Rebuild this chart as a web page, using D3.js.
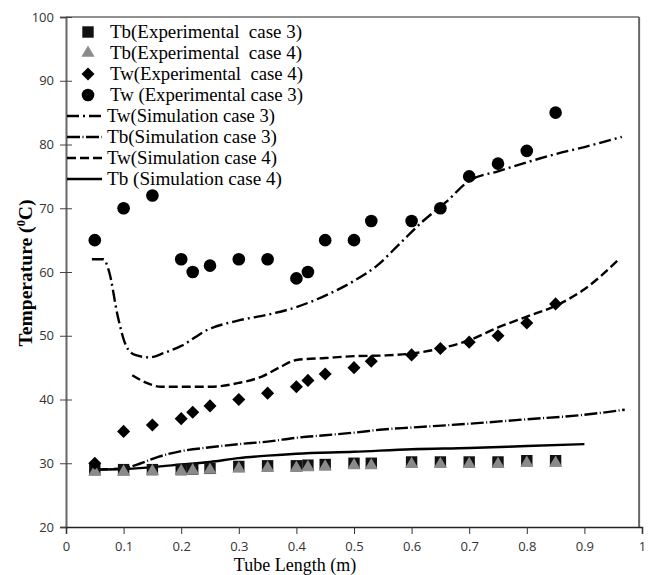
<!DOCTYPE html>
<html>
<head>
<meta charset="utf-8">
<script src="https://cdn.jsdelivr.net/npm/d3@7"></script>
<style>
  body { margin: 0; background: #fff; }
  svg { display: block; }
</style>
</head>
<body>
<div class="chart"></div>
<script>
"use strict";
// measured tube positions (m)
const xExp = [0.05, 0.1, 0.15, 0.2, 0.22, 0.25, 0.3, 0.35, 0.4, 0.42, 0.45, 0.5, 0.53, 0.6, 0.65, 0.7, 0.75, 0.8, 0.85];
const tbExp3 = [29, 29, 29, 29, 29.1, 29.2, 29.5, 29.6, 29.6, 29.7, 29.8, 30, 30, 30.2, 30.2, 30.2, 30.2, 30.4, 30.4];
const tbExp4 = [28.8, 28.8, 28.9, 28.9, 29, 29.1, 29.3, 29.4, 29.4, 29.5, 29.6, 29.8, 29.8, 30, 30, 30, 30, 30.2, 30.2];
const twExp4 = [30, 35, 36, 37, 38, 39, 40, 41, 42, 43, 44, 45, 46, 47, 48, 49, 50, 52, 55];
const twExp3 = [65, 70, 72, 62, 60, 61, 62, 62, 59, 60, 65, 65, 68, 68, 70, 75, 77, 79, 85];

// simulation curves [x, T]
const twSim3 = [[0.045, 62], [0.065, 62], [0.075, 60], [0.09, 53], [0.105, 48.3], [0.12, 47], [0.145, 46.6], [0.17, 47.3],
  [0.2, 48.4], [0.245, 50.9], [0.3, 52.4], [0.35, 53.3], [0.4, 54.5], [0.45, 56.3], [0.5, 58.6], [0.54, 61],
  [0.58, 64.5], [0.62, 68], [0.66, 71], [0.7, 74.3], [0.75, 75.8], [0.8, 77.2], [0.85, 78.5], [0.9, 79.6], [0.965, 81.2]];
const twSim4 = [[0.115, 43.8], [0.14, 42.6], [0.165, 42], [0.2, 42], [0.25, 42], [0.3, 42.6], [0.34, 43.6], [0.37, 45],
  [0.4, 46.2], [0.45, 46.5], [0.5, 46.8], [0.55, 46.9], [0.6, 47.2], [0.65, 48], [0.7, 49.3], [0.75, 51.3],
  [0.8, 53], [0.85, 54.7], [0.9, 57.3], [0.96, 62]];
const tbSim3 = [[0.05, 29], [0.1, 29.2], [0.13, 30], [0.16, 31], [0.2, 31.9], [0.25, 32.5], [0.3, 33], [0.35, 33.4],
  [0.4, 34], [0.45, 34.4], [0.5, 34.8], [0.55, 35.3], [0.6, 35.6], [0.7, 36.2], [0.8, 36.9], [0.9, 37.6], [0.97, 38.4]];
const tbSim4 = [[0.05, 29], [0.1, 29.1], [0.15, 29.4], [0.2, 29.8], [0.25, 30.2], [0.3, 30.8], [0.35, 31.2],
  [0.4, 31.5], [0.5, 31.8], [0.6, 32.2], [0.7, 32.4], [0.8, 32.7], [0.9, 33]];

const xTicks = [0, 0.1, 0.2, 0.3, 0.4, 0.5, 0.6, 0.7, 0.8, 0.9, 1];
const yTicks = [20, 30, 40, 50, 60, 70, 80, 90, 100];

const legendItems = ["Tb(Experimental  case 3)", "Tb(Experimental  case 4)", "Tw(Experimental  case 4)", "Tw (Experimental case 3)",
  "Tw(Simulation case 3)", "Tb(Simulation case 3)", "Tw(Simulation case 4)", "Tb (Simulation case 4)"];
const legendWidths = [192, 192, 193, 193, 168, 170, 170, 175];

const W = 651, H = 575;
const margin = {top: 17, right: 9, bottom: 48, left: 66};
const width = W - margin.left - margin.right;
const height = H - margin.top - margin.bottom;

const svg = d3.select(".chart").append("svg")
  .attr("width", W).attr("height", H);
const g = svg.append("g")
  .attr("transform", "translate(" + margin.left + "," + margin.top + ")");

const x = d3.scaleLinear().domain([0, 1]).range([0, width]);
const y = d3.scaleLinear().domain([20, 100]).range([height, 0]);

// frame top and right
g.append("line").attr("x1", 0).attr("x2", x(0.995)).attr("y1", 0).attr("y2", 0)
  .attr("stroke", "#222").attr("stroke-width", 1);
g.append("line").attr("x1", x(0.995)).attr("x2", x(0.995)).attr("y1", 0).attr("y2", height)
  .attr("stroke", "#666").attr("stroke-width", 2);

// axes
const yAxis = g.append("g")
  .call(d3.axisLeft(y).tickValues(yTicks).tickFormat(d3.format("d")).tickSize(6).tickPadding(6));
yAxis.select(".domain").attr("stroke", "#666").attr("stroke-width", 2);
yAxis.selectAll(".tick line").attr("x2", 6).attr("x1", -6).attr("stroke", "#444");
yAxis.selectAll(".tick text").attr("x", -12).attr("font-family", "Open Sans, sans-serif")
  .attr("font-size", 13).attr("fill", "#333");

const xAxis = g.append("g").attr("transform", "translate(0," + height + ")")
  .call(d3.axisBottom(x).tickValues(xTicks).tickFormat(d => d).tickSize(7).tickPadding(8));
xAxis.select(".domain").attr("stroke", "#222").attr("stroke-width", 1.5);
xAxis.selectAll(".tick line").attr("stroke", "#333");
xAxis.selectAll(".tick text").attr("font-family", "Open Sans, sans-serif")
  .attr("font-size", 13).attr("fill", "#333");

svg.append("text")
  .attr("x", 295).attr("y", 571)
  .attr("text-anchor", "middle")
  .attr("font-family", "Liberation Serif, serif").attr("font-size", 18)
  .text("Tube Length (m)");

const yt = svg.append("text")
  .attr("transform", "translate(32,273) rotate(-90)")
  .attr("text-anchor", "middle")
  .attr("font-family", "Liberation Serif, serif").attr("font-size", 19).attr("font-weight", "bold")
  .attr("textLength", 147).attr("lengthAdjust", "spacingAndGlyphs")
  .text("Temperature (");
yt.append("tspan").attr("font-size", 12).attr("dy", -7).text("0");
yt.append("tspan").attr("dy", 7).text("C)");

// simulation lines
const line = d3.line().x(d => x(d[0])).y(d => y(d[1])).curve(d3.curveMonotoneX);
const sims = [
  {data: twSim3, dash: "12,4,2,4"},
  {data: tbSim3, dash: "13,2.5,1,2.5"},
  {data: twSim4, dash: "9,4"},
  {data: tbSim4, dash: null}
];
sims.forEach(s => {
  g.append("path").datum(s.data)
    .attr("d", line)
    .attr("fill", "none").attr("stroke", "#000").attr("stroke-width", 2.4)
    .attr("stroke-dasharray", s.dash);
});

// experimental points
const sq = d3.symbol().type(d3.symbolSquare).size(130);
const tri = d3.symbol().type(d3.symbolTriangle).size(75);
const dia = d3.symbol().type(d3.symbolSquare).size(85);

g.selectAll(".tb3").data(xExp).enter().append("path")
  .attr("d", sq).attr("fill", "#111")
  .attr("transform", (d, i) => "translate(" + x(d) + "," + y(tbExp3[i]) + ")");
g.selectAll(".tb4").data(xExp).enter().append("path")
  .attr("d", tri).attr("fill", "#8a8a8a")
  .attr("transform", (d, i) => "translate(" + x(d) + "," + (y(tbExp4[i]) + 1) + ")");
g.selectAll(".tw4").data(xExp).enter().append("path")
  .attr("d", dia).attr("fill", "#000")
  .attr("transform", (d, i) => "translate(" + x(d) + "," + y(twExp4[i]) + ") rotate(45)");
g.selectAll(".tw3").data(xExp).enter().append("circle")
  .attr("cx", d => x(d)).attr("cy", (d, i) => y(twExp3[i])).attr("r", 6.3).attr("fill", "#000");

// legend
const leg = svg.append("g").attr("font-family", "Liberation Serif, serif").attr("font-size", 19);
legendItems.forEach((t, i) => {
  const ly = 32 + i * 21;
  if (i === 0) leg.append("path").attr("d", sq).attr("fill", "#111").attr("transform", "translate(88," + ly + ")");
  if (i === 1) leg.append("path").attr("d", tri).attr("fill", "#8a8a8a").attr("transform", "translate(88," + ly + ")");
  if (i === 2) leg.append("path").attr("d", dia).attr("fill", "#000").attr("transform", "translate(88," + ly + ") rotate(45)");
  if (i === 3) leg.append("circle").attr("cx", 88).attr("cy", ly).attr("r", 6.3).attr("fill", "#000");
  if (i >= 4) {
    leg.append("line").attr("x1", 67).attr("x2", 102).attr("y1", ly).attr("y2", ly)
      .attr("stroke", "#000").attr("stroke-width", 2.4).attr("stroke-dasharray", sims[i - 4].dash);
  }
  leg.append("text").attr("x", i >= 4 ? 107 : 110).attr("y", ly + 6)
    .attr("textLength", legendWidths[i]).attr("lengthAdjust", "spacingAndGlyphs")
    .style("white-space", "pre").text(t);
});
</script>
</body>
</html>
